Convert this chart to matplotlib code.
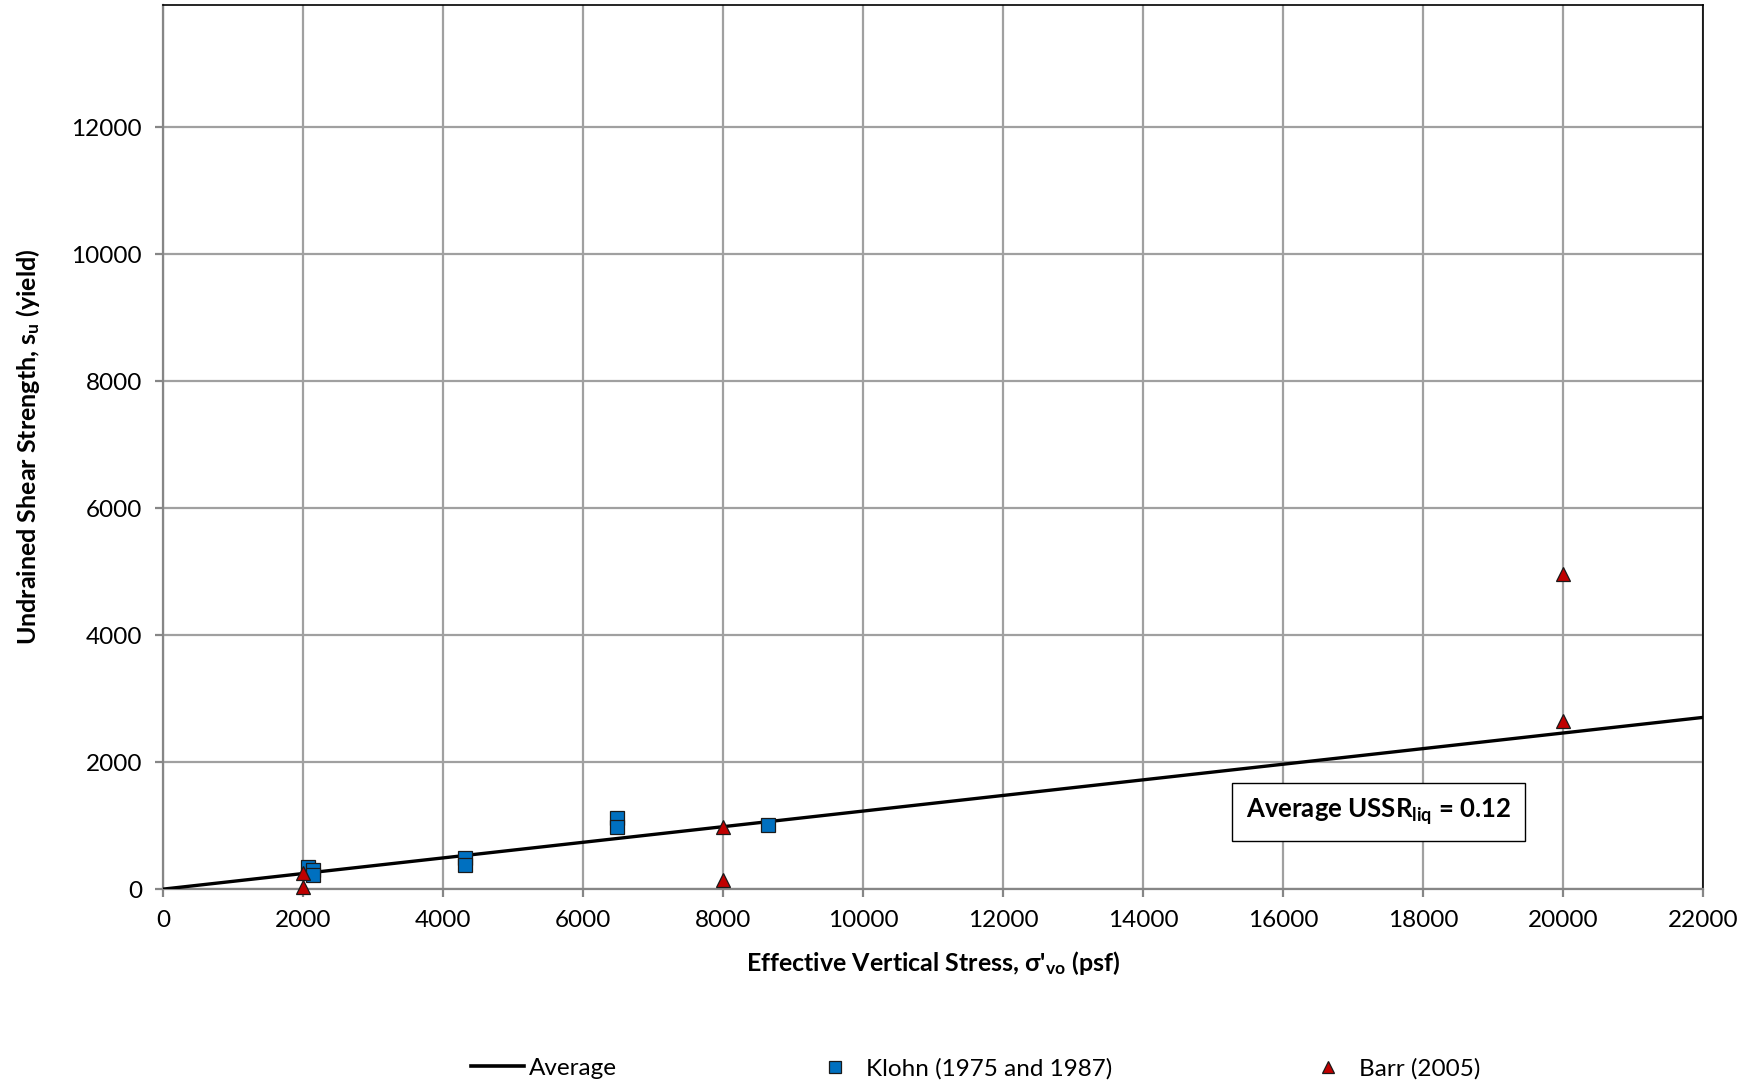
import matplotlib
matplotlib.use("Agg")
import matplotlib.pyplot as plt
from matplotlib.lines import Line2D
import numpy as np

plt.rcParams['font.family'] = ['Lato', 'DejaVu Sans']
plt.rcParams['mathtext.fontset'] = 'custom'
plt.rcParams['mathtext.rm'] = 'Lato'
plt.rcParams['mathtext.bf'] = 'Lato:bold'
plt.rcParams['mathtext.it'] = 'Lato:italic'

# Data
klohn_x = [2070, 2150, 2150, 4320, 4320, 6480, 6480, 8640]
klohn_y = [350, 300, 220, 490, 380, 1120, 980, 1010]
barr_x = [2000, 2000, 8000, 8000, 20000, 20000]
barr_y = [250, 30, 980, 140, 4970, 2650]
avg_x = [0, 22000]
avg_slope = 0.123
avg_y = [avg_slope * v for v in avg_x]

x_ticks = list(range(0, 22001, 2000))
y_ticks = list(range(0, 12001, 2000))

fig = plt.figure(figsize=(17.54, 10.83), dpi=100)
ax = fig.add_axes([0.0929, 0.179, 0.971 - 0.0929, 0.9954 - 0.179])

grid_c = '#a0a0a0'
ax.set_xlim(0, 22000)
ax.set_ylim(0, 13930)
ax.set_xticks(x_ticks)
ax.set_yticks(y_ticks)
ax.grid(True, color=grid_c, lw=1.6)
ax.set_axisbelow(True)
for s in ['left', 'bottom']:
    ax.spines[s].set_color('#868686')
    ax.spines[s].set_linewidth(1.6)
for s in ['top', 'right']:
    ax.spines[s].set_color('black')
    ax.spines[s].set_linewidth(1.2)
ax.tick_params(axis='both', direction='out', length=6, width=1.6, color='#868686',
               labelsize=17.5, pad=9)

ax.plot(avg_x, avg_y, color='black', lw=2.4, zorder=3, solid_capstyle='butt')
ax.plot(klohn_x, klohn_y, 's', ms=9.5, mfc='#0070C0', mec='#1a1a1a', mew=0.9, zorder=4,
        clip_on=False)
ax.plot(barr_x, barr_y, '^', ms=10.5, mfc='#C00000', mec='#1a1a1a', mew=0.9, zorder=5,
        clip_on=False)

ax.text(17360, 1213, r'Average USSR$\mathbf{_{liq}}$ = 0.12', ha='center', va='center',
        fontsize=18.5, fontweight='bold',
        bbox=dict(boxstyle='square,pad=0.55', fc='white', ec='black', lw=1.0), zorder=6)

ax.set_xlabel(r"Effective Vertical Stress, σ'$\mathbf{_{vo}}$ (psf)", fontsize=18,
              fontweight='bold', labelpad=13)
ax.set_ylabel(r"Undrained Shear Strength, s$\mathbf{_{u}}$ (yield)", fontsize=18,
              fontweight='bold', labelpad=21)

# Legend entries
h_avg = Line2D([], [], color='black', lw=2.6)
h_kl = Line2D([], [], ls='none', marker='s', ms=9, mfc='#0070C0', mec='#1a1a1a', mew=0.9)
h_ba = Line2D([], [], ls='none', marker='^', ms=9, mfc='#C00000', mec='#1a1a1a', mew=0.9)
ly = 0.0135
for h, lab, xpos, hl, tp in [(h_avg, 'Average', 0.2685, 2.2, 0.18),
                              (h_kl, 'Klohn (1975 and 1987)', 0.4675, 1.2, 0.69),
                              (h_ba, 'Barr (2005)', 0.7487, 1.2, 0.69)]:
    fig.legend(handles=[h], labels=[lab], loc='center left', bbox_to_anchor=(xpos, ly),
               frameon=False, fontsize=17.5, handlelength=hl, handletextpad=tp,
               borderpad=0, borderaxespad=0)

fig.savefig('out.png', dpi=100)
